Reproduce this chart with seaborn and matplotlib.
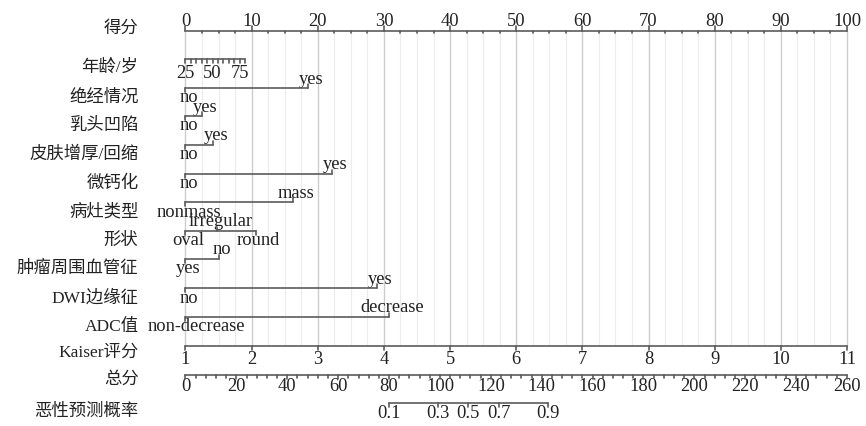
import numpy as np
import pandas as pd
import matplotlib
matplotlib.use("Agg")
import matplotlib.pyplot as plt
import seaborn as sns

# ---- nomogram content -------------------------------------------------
row_names = ["得分", "年龄/岁", "绝经情况", "乳头凹陷", "皮肤增厚/回缩", "微钙化",
             "病灶类型", "形状", "肿瘤周围血管征", "DWI边缘征", "ADC值",
             "Kaiser评分", "总分", "恶性预测概率"]

# points scale
points_major = list(range(0, 101, 10))
points_minor = [2.5 * i for i in range(41)]

# age (continuous): 25 -> 0 points, 80 -> 9 points
age_ticks = list(range(25, 81, 5))
age_labels = [25, 50, 75]
age_span = [25, 80]
age_points_span = [0.0, 9.0]

# categorical predictors: levels and their points
menopause_levels = ["no", "yes"]
menopause_points = [0.0, 18.5]
nipple_levels = ["no", "yes"]
nipple_points = [0.0, 2.5]
skin_levels = ["no", "yes"]
skin_points = [0.0, 4.2]
calc_levels = ["no", "yes"]
calc_points = [0.0, 22.1]
lesion_levels = ["nonmass", "mass"]
lesion_points = [0.0, 16.3]
shape_levels = ["oval", "irregular", "round"]
shape_points = [0.0, 4.8, 10.6]
vessel_levels = ["yes", "no"]
vessel_points = [0.0, 5.0]
dwi_levels = ["no", "yes"]
dwi_points = [0.0, 28.9]
adc_levels = ["non-decrease", "decrease"]
adc_points = [0.0, 30.8]

# Kaiser score: 1 -> 0 points, 11 -> 100 points
kaiser_ticks = list(range(1, 12))
kaiser_span = [1, 11]

# total points
total_major = list(range(0, 261, 20))
total_minor = list(range(0, 261, 4))
total_span = [0, 260]

# predicted probability of malignancy, placed on the total-points scale
prob_labels = ["0.1", "0.3", "0.5", "0.7", "0.9"]
prob_total = [79.8, 99.1, 111.1, 123.2, 142.4]

# ---- layout (pixel rows of each scale) -------------------------------
W, H = 866, 427
x0_px, x100_px = 185.5, 847.0
ppp = (x100_px - x0_px) / 100.0
row_y = [31.7, 60.0, 89.0, 117.0, 146.0, 174.5, 203.3, 231.7, 260.0,
         289.3, 317.7, 346.7, 376.0, 404.0]
name_dy = [-2.5, 7.5, 9, 9, 9, 9, 9, 9, 9, 9, 9, 6.5, 4, 8]
name_right = (138.5 - x0_px) / ppp
level_min_left_px = 148.0   # level labels keep clear of the name column

LINE = "#5b5b5b"
LAT = ["Liberation Serif", "Noto Sans CJK SC"]
FS = 13.3

sns.set_theme(style="white")
plt.rcParams["font.family"] = LAT

fig = plt.figure(figsize=(W / 100, H / 100), dpi=100)
ax = fig.add_axes([0, 0, 1, 1])
ax.set_xlim(-x0_px / ppp, (W - x0_px) / ppp)
ax.set_ylim(H, 0)
ax.set_axis_off()
renderer = fig.canvas.get_renderer()

segs = []


def seg(xa, ya, xb, yb):
    k = len(segs)
    segs.append((k, xa, ya))
    segs.append((k, xb, yb))


def draw(seglist, color, lw, z):
    df = pd.DataFrame(seglist, columns=["seg", "x", "y"])
    sns.lineplot(data=df, x="x", y="y", units="seg", estimator=None,
                 sort=False, color=color, lw=lw, ax=ax, legend=False,
                 zorder=z)


def label(x, y, s, **kw):
    return ax.text(x, y, s, ha="center", va="center", fontsize=FS,
                   family=LAT, color="#222222", **kw)


# vertical reference grid between the points scale and the Kaiser scale
y_top, y_bot = row_y[0], row_y[11]
grid_minor, grid_major = [], []
for i, v in enumerate(points_minor):
    tgt = grid_major if v % 10 == 0 else grid_minor
    tgt.append((i, v, y_top))
    tgt.append((i, v, y_bot))
draw(grid_minor, "#ececec", 0.8, 1)
draw(grid_major, "#cdcdcd", 1.0, 1)

# points scale
y = row_y[0]
seg(0, y, 100, y)
for v in points_minor:
    if v % 10 == 0:
        seg(v, y, v, y - 4.5)
        label(v, y - 10.5, f"{v:g}")
    else:
        seg(v, y, v, y + 2.5)

# age
y = row_y[1]
age_pts = np.interp(age_ticks, age_span, age_points_span)
seg(age_pts[0], y, age_pts[-1], y)
for a, p in zip(age_ticks, age_pts):
    seg(p, y, p, y + 4)
    if a in age_labels:
        label(p, y + 13.5, str(a))

# categorical rows
cats = [(menopause_levels, menopause_points), (nipple_levels, nipple_points),
        (skin_levels, skin_points), (calc_levels, calc_points),
        (lesion_levels, lesion_points), (shape_levels, shape_points),
        (vessel_levels, vessel_points), (dwi_levels, dwi_points),
        (adc_levels, adc_points)]
for (levels, pts), y in zip(cats, row_y[2:11]):
    seg(min(pts), y, max(pts), y)
    for j, (lev, p) in enumerate(zip(levels, pts)):
        up = j % 2 == 1
        seg(p, y, p, y - 4 if up else y + 4)
        t = label(p + 0.45, y - 10 if up else y + 9, lev)
        bb = t.get_window_extent(renderer)
        if bb.x0 < level_min_left_px:
            t.set_x(p + 0.45 + (level_min_left_px - bb.x0) / ppp)

# Kaiser score
y = row_y[11]
k_pts = np.interp(kaiser_ticks, kaiser_span, [0, 100])
seg(0, y, 100, y)
for k, p in zip(kaiser_ticks, k_pts):
    seg(p, y, p, y + 4)
    label(p, y + 13, str(k))

# total points
y = row_y[12]
seg(0, y, 100, y)
for t in total_minor:
    p = np.interp(t, total_span, [0, 100])
    if t % 20 == 0:
        seg(p, y, p, y + 4)
        label(p, y + 11, str(t))
    else:
        seg(p, y, p, y + 2.5)

# probability
y = row_y[13]
pr_pts = np.interp(prob_total, total_span, [0, 100])
seg(pr_pts[0], y, pr_pts[-1], y)
for s, p in zip(prob_labels, pr_pts):
    seg(p, y, p, y + 4)
    label(p, y + 10, s)

draw(segs, LINE, 1.2, 3)

# row names
for name, yy, dy in zip(row_names, row_y, name_dy):
    ax.text(name_right, yy + dy, name, ha="right", va="center",
            fontsize=12.5, family=LAT, color="#222222")

fig.savefig("out.png", dpi=100, facecolor="white")
